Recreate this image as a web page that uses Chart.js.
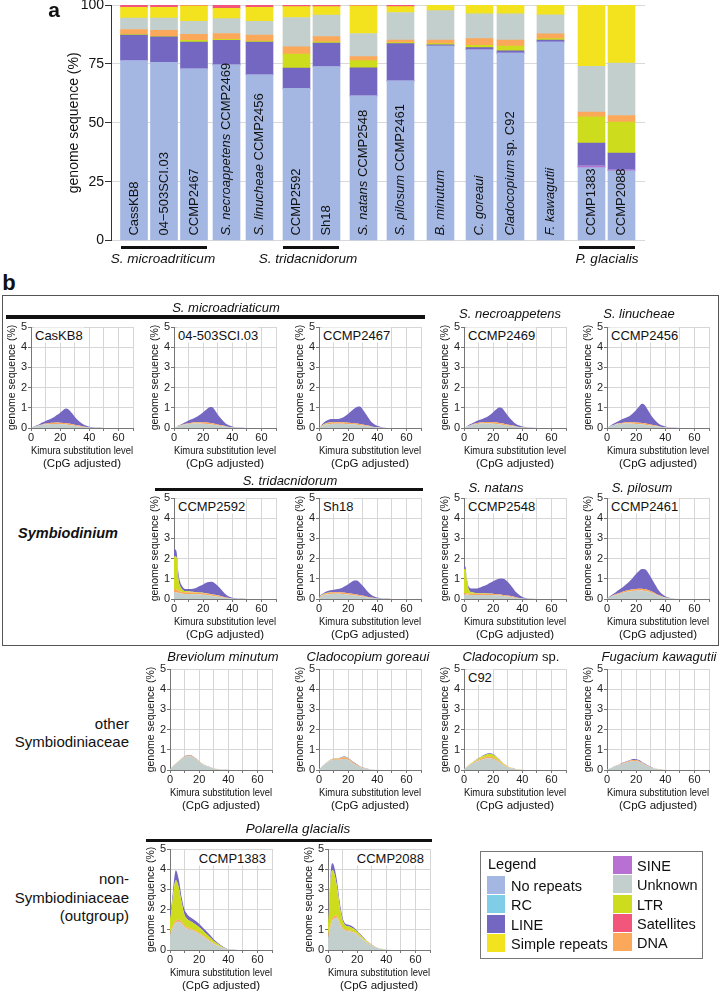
<!DOCTYPE html>
<html lang="en">
<head>
<meta charset="UTF-8">
<title>Repeat content and Kimura landscapes</title>
<script src="https://cdn.jsdelivr.net/npm/chart.js@4.4.1/dist/chart.umd.min.js"></script>
<style>
  body { margin: 0; background: #fff; font-family: "Liberation Sans", Arial, sans-serif; color: #111; }
  #fig { position: relative; width: 721px; height: 992px; overflow: hidden; }
  #fig canvas { position: absolute; }
  .t { position: absolute; white-space: nowrap; line-height: 1; }
  .rule { position: absolute; background: #111; }
</style>
</head>
<body>
<div id="fig"></div>
<script>
// ---------- panel a: genome composition (% of genome) ----------
const barLabels = ['CassKB8', '04\u2212503SCI.03', 'CCMP2467', '*S. necroappetens* CCMP2469', '*S. linucheae* CCMP2456',
  'CCMP2592', 'Sh18', '*S. natans* CCMP2548', '*S. pilosum* CCMP2461', '*B. minutum*', '*C. goreaui*',
  '*Cladocopium* sp. C92', '*F. kawagutii*', 'CCMP1383', 'CCMP2088'];
const noRepeats = [76.4, 75.7, 72.9, 74.6, 70.4, 64.6, 73.9, 61.4, 67.8, 82.6, 81.0, 79.6, 84.3, 31.0, 29.6];
const sine      = [0, 0, 0, 0, 0, 0, 0, 0, 0, 0, 0, 0, 0, 0.7, 0.4];
const rc        = [0, 0, 0, 0, 0, 0, 0, 0, 0, 0, 0, 0, 0, 0, 0];
const lineTE    = [10.8, 10.8, 11.4, 10.4, 13.9, 8.6, 9.9, 11.9, 15.8, 0.5, 0.9, 1.0, 0.8, 9.7, 7.1];
const ltr       = [0.3, 0.2, 0.7, 0.4, 0.4, 6.0, 0.6, 3.1, 0.4, 0.5, 1.0, 2.0, 0.6, 11.1, 13.2];
const dnaTE     = [2.1, 2.5, 2.5, 2.5, 2.5, 3.0, 2.2, 1.7, 1.1, 1.5, 2.8, 2.5, 2.1, 2.1, 2.8];
const unknown   = [4.8, 5.2, 5.6, 6.3, 5.9, 12.5, 9.1, 9.8, 11.7, 12.5, 10.5, 11.2, 8.0, 19.4, 22.2];
const simple    = [4.6, 4.6, 6.6, 4.4, 5.9, 4.6, 3.6, 11.8, 2.5, 2.4, 3.8, 3.7, 4.2, 26.0, 24.6];
const satellite = [1.0, 1.0, 0.3, 1.4, 1.0, 0.7, 0.7, 0.3, 0.7, 0, 0, 0, 0, 0, 0.1];
const pctTicks  = [0, 25, 50, 75, 100];

// ---------- panel b: Kimura landscapes (% of genome per bin) ----------
const kimura = [0, 1, 2, 3, 4, 6, 8, 10, 12, 14, 16, 18, 20, 22, 24, 26, 28, 30, 33, 36, 40, 44, 50];
const strainNames = ['CasKB8', '04-503SCI.03', 'CCMP2467', 'CCMP2469', 'CCMP2456', 'CCMP2592', 'Sh18', 'CCMP2548',
  'CCMP2461', '', '', 'C92', '', 'CCMP1383', 'CCMP2088'];
const unknownK = [
  [0,0.03,0.05,0.07,0.09,0.13,0.16,0.18,0.19,0.2,0.2,0.2,0.19,0.18,0.17,0.15,0.13,0.11,0.08,0.05,0.02,0.01,0],
  [0,0.03,0.06,0.09,0.11,0.15,0.18,0.2,0.21,0.22,0.22,0.22,0.21,0.2,0.19,0.17,0.15,0.12,0.09,0.06,0.03,0.01,0],
  [0,0.04,0.08,0.12,0.15,0.18,0.2,0.21,0.21,0.21,0.21,0.2,0.19,0.18,0.17,0.16,0.14,0.12,0.09,0.06,0.03,0.01,0],
  [0,0.03,0.06,0.09,0.12,0.16,0.19,0.21,0.22,0.23,0.23,0.22,0.21,0.2,0.18,0.16,0.14,0.12,0.09,0.06,0.03,0.01,0],
  [0,0.04,0.07,0.1,0.13,0.17,0.2,0.21,0.22,0.22,0.22,0.21,0.2,0.19,0.18,0.16,0.14,0.12,0.09,0.06,0.03,0.01,0],
  [0.35,0.35,0.33,0.3,0.28,0.26,0.25,0.25,0.24,0.24,0.23,0.22,0.21,0.2,0.18,0.16,0.14,0.12,0.08,0.05,0.02,0.01,0],
  [0.05,0.1,0.14,0.17,0.2,0.23,0.25,0.26,0.26,0.26,0.25,0.24,0.22,0.2,0.18,0.16,0.14,0.12,0.08,0.05,0.02,0.01,0],
  [0.2,0.22,0.22,0.21,0.2,0.2,0.2,0.2,0.2,0.2,0.2,0.2,0.19,0.18,0.17,0.16,0.14,0.12,0.09,0.05,0.02,0.01,0],
  [0.03,0.06,0.09,0.12,0.15,0.2,0.25,0.29,0.33,0.36,0.38,0.4,0.41,0.42,0.42,0.4,0.37,0.32,0.24,0.15,0.06,0.02,0],
  [0.05,0.11,0.19,0.25,0.32,0.43,0.54,0.63,0.68,0.68,0.61,0.52,0.41,0.31,0.22,0.16,0.11,0.08,0.04,0.02,0.01,0,0],
  [0.05,0.1,0.16,0.22,0.28,0.38,0.47,0.51,0.51,0.51,0.55,0.55,0.49,0.4,0.3,0.22,0.15,0.1,0.05,0.02,0.01,0,0],
  [0.05,0.1,0.15,0.2,0.25,0.33,0.4,0.46,0.51,0.55,0.58,0.58,0.55,0.48,0.38,0.28,0.2,0.13,0.07,0.03,0.01,0,0],
  [0.02,0.05,0.08,0.1,0.13,0.18,0.23,0.28,0.33,0.38,0.42,0.45,0.44,0.4,0.33,0.25,0.18,0.12,0.06,0.03,0.01,0,0],
  [0.75,0.95,1.1,1.25,1.35,1.4,1.3,1.15,1.05,1.0,0.95,0.88,0.8,0.7,0.6,0.5,0.4,0.3,0.2,0.1,0.02,0,0],
  [0.6,0.9,1.2,1.45,1.55,1.6,1.3,1.05,0.95,0.93,0.9,0.85,0.75,0.63,0.52,0.4,0.3,0.22,0.12,0.06,0.02,0,0]
];
const dnaK = [
  [0,0,0.01,0.01,0.01,0.02,0.03,0.04,0.05,0.06,0.06,0.07,0.07,0.07,0.07,0.07,0.06,0.05,0.04,0.02,0.01,0,0],
  [0,0,0.01,0.01,0.01,0.02,0.03,0.04,0.05,0.06,0.07,0.07,0.07,0.07,0.07,0.07,0.06,0.05,0.04,0.02,0.01,0,0],
  [0,0.01,0.02,0.03,0.04,0.06,0.07,0.07,0.07,0.07,0.07,0.07,0.07,0.07,0.07,0.06,0.06,0.05,0.04,0.02,0.01,0,0],
  [0,0,0.01,0.01,0.02,0.03,0.04,0.05,0.06,0.07,0.07,0.08,0.08,0.08,0.07,0.07,0.06,0.05,0.04,0.02,0.01,0,0],
  [0,0,0.01,0.01,0.01,0.02,0.03,0.04,0.05,0.06,0.06,0.07,0.07,0.07,0.07,0.07,0.06,0.05,0.04,0.02,0.01,0,0],
  [0.15,0.15,0.14,0.12,0.1,0.09,0.08,0.08,0.08,0.08,0.08,0.08,0.08,0.07,0.07,0.07,0.06,0.05,0.04,0.02,0.01,0,0],
  [0.01,0.02,0.03,0.04,0.05,0.06,0.07,0.07,0.07,0.07,0.07,0.07,0.07,0.07,0.06,0.06,0.05,0.05,0.03,0.02,0.01,0,0],
  [0.08,0.08,0.07,0.06,0.06,0.06,0.06,0.06,0.06,0.06,0.06,0.06,0.06,0.06,0.06,0.05,0.05,0.05,0.04,0.02,0.01,0,0],
  [0,0.01,0.01,0.02,0.02,0.03,0.04,0.05,0.06,0.07,0.08,0.08,0.09,0.09,0.09,0.09,0.08,0.07,0.05,0.03,0.01,0,0],
  [0,0.01,0.01,0.02,0.02,0.03,0.03,0.04,0.04,0.04,0.04,0.03,0.03,0.02,0.02,0.01,0.01,0.01,0.01,0.01,0,0,0],
  [0,0,0.01,0.01,0.01,0.02,0.03,0.04,0.05,0.06,0.07,0.07,0.07,0.06,0.05,0.04,0.03,0.02,0.01,0.01,0,0,0],
  [0,0.01,0.01,0.02,0.02,0.03,0.04,0.05,0.06,0.07,0.08,0.08,0.08,0.07,0.06,0.05,0.04,0.03,0.02,0.01,0,0,0],
  [0,0,0.01,0.01,0.01,0.02,0.02,0.03,0.04,0.04,0.05,0.05,0.05,0.05,0.04,0.04,0.03,0.02,0.01,0.01,0,0,0],
  [0.1,0.1,0.1,0.1,0.1,0.1,0.1,0.08,0.07,0.07,0.06,0.06,0.05,0.05,0.04,0.04,0.03,0.03,0.02,0.01,0,0,0],
  [0.15,0.15,0.15,0.15,0.12,0.1,0.08,0.07,0.06,0.05,0.05,0.04,0.04,0.03,0.03,0.02,0.02,0.01,0.01,0,0,0,0]
];
const ltrK = [
  null,
  null,
  [0,0.01,0.02,0.02,0.02,0.02,0.01,0.01,0.01,0.01,0,0,0,0,0,0,0,0,0,0,0,0,0],
  null,
  null,
  [1.6,1.6,1.5,0.6,0.3,0.1,0.06,0.05,0.04,0.03,0.03,0.02,0.02,0.02,0.01,0.01,0.01,0.01,0,0,0,0,0],
  [0.02,0.03,0.03,0.03,0.02,0.02,0.01,0.01,0,0,0,0,0,0,0,0,0,0,0,0,0,0,0],
  [1.2,1.15,0.6,0.25,0.12,0.06,0.04,0.03,0.02,0.02,0.01,0.01,0.01,0,0,0,0,0,0,0,0,0,0],
  null,
  null,
  [0,0,0,0,0,0.01,0.01,0.01,0.01,0.01,0.01,0.01,0.01,0.01,0,0,0,0,0,0,0,0,0],
  [0,0,0.01,0.01,0.02,0.03,0.04,0.06,0.08,0.1,0.12,0.13,0.12,0.1,0.07,0.05,0.03,0.02,0.01,0,0,0,0],
  null,
  [0.7,0.9,1.4,1.85,2.0,1.6,0.95,0.5,0.4,0.35,0.33,0.3,0.28,0.25,0.22,0.19,0.16,0.12,0.08,0.04,0.01,0,0],
  [0.55,1.25,2.3,2.35,2.2,1.5,0.8,0.35,0.2,0.18,0.17,0.15,0.12,0.1,0.07,0.06,0.04,0.03,0.02,0.01,0,0,0]
];
const lineK = [
  [0,0.01,0.01,0.02,0.03,0.05,0.09,0.13,0.17,0.21,0.29,0.38,0.5,0.63,0.72,0.68,0.55,0.4,0.21,0.1,0.03,0.01,0],
  [0,0.01,0.01,0.02,0.03,0.05,0.09,0.13,0.17,0.21,0.28,0.38,0.5,0.63,0.76,0.8,0.68,0.5,0.28,0.12,0.04,0.01,0],
  [0,0.02,0.05,0.08,0.1,0.13,0.16,0.16,0.15,0.17,0.23,0.32,0.44,0.58,0.71,0.82,0.86,0.74,0.48,0.22,0.07,0.02,0],
  [0,0.01,0.02,0.03,0.04,0.06,0.09,0.12,0.15,0.19,0.26,0.36,0.49,0.63,0.76,0.76,0.62,0.45,0.24,0.1,0.03,0.01,0],
  [0,0.01,0.02,0.04,0.06,0.08,0.12,0.17,0.21,0.26,0.34,0.46,0.62,0.8,0.95,0.9,0.7,0.48,0.25,0.11,0.04,0.01,0],
  [0.35,0.35,0.25,0.3,0.22,0.15,0.11,0.12,0.14,0.17,0.24,0.33,0.41,0.51,0.58,0.61,0.57,0.47,0.3,0.13,0.03,0.01,0],
  [0.02,0.03,0.04,0.05,0.06,0.08,0.1,0.12,0.15,0.18,0.24,0.33,0.44,0.56,0.67,0.7,0.62,0.48,0.29,0.13,0.04,0.01,0],
  [0.17,0.15,0.11,0.13,0.17,0.2,0.22,0.26,0.32,0.37,0.45,0.53,0.62,0.71,0.77,0.81,0.79,0.68,0.47,0.25,0.07,0.02,0],
  [0.01,0.02,0.03,0.04,0.06,0.1,0.15,0.2,0.27,0.35,0.46,0.6,0.75,0.88,0.97,0.98,0.88,0.7,0.43,0.2,0.06,0.02,0],
  [0,0,0,0,0,0,0.01,0.01,0.02,0.02,0.02,0.02,0.01,0.01,0.01,0.01,0.01,0,0,0,0,0,0],
  [0,0,0,0.01,0.01,0.01,0.01,0.01,0.01,0.02,0.03,0.04,0.03,0.03,0.03,0.02,0.02,0.01,0.01,0,0,0,0],
  [0,0,0,0,0.01,0.01,0.01,0.02,0.02,0.03,0.04,0.04,0.04,0.03,0.03,0.02,0.02,0.01,0.01,0,0,0,0],
  [0,0,0,0,0.01,0.01,0.01,0.02,0.02,0.03,0.03,0.04,0.04,0.04,0.03,0.03,0.02,0.02,0.01,0.01,0,0,0],
  [0.25,0.25,0.3,0.4,0.5,0.4,0.25,0.27,0.23,0.2,0.18,0.18,0.17,0.15,0.14,0.12,0.11,0.08,0.05,0.03,0.01,0.01,0],
  [0.2,0.3,0.35,0.35,0.33,0.3,0.22,0.13,0.09,0.09,0.08,0.06,0.04,0.04,0.03,0.02,0.02,0.01,0,0,0,0,0]
];

// ---------- styles & layout ----------
const C = {
  noRep: '#A4B7E3', rc: '#80CDE8', line: '#7467C2', simple: '#F3E31E', sine: '#B870D2',
  unknown: '#C3CFCC', ltr: '#CEDC1E', sat: '#F2577B', dna: '#FBA85B'
};
const FONT = '"Liberation Sans", Arial, sans-serif';
Chart.defaults.font.family = FONT;
Chart.defaults.color = '#111';

// extra spacing (px) between neighbouring bars; base step is 30
const barGaps = [0, 0, 2.5, 3, 7, 0, 7, 7, 10, 9, 1, 10, 11, 0];
const barPos = [0];
barGaps.forEach(g => barPos.push(barPos[barPos.length - 1] + 30 + g));

// [y-axis x, y of the "5" gridline] for each small chart
const miniSlots = [[31, 327], [174, 327], [319, 327], [464, 327], [607, 327],
  [174, 498], [319, 498], [464, 498], [607, 498],
  [170, 669], [319, 669], [464, 669], [607, 669],
  [170, 849], [328, 849]];

const fig = document.getElementById('fig');

function put(html, x, y, size, opt = {}) {
  const d = document.createElement('div');
  d.className = 't';
  d.innerHTML = html;
  const sx = opt.align === 'left' ? '0' : opt.align === 'right' ? '-100%' : '-50%';
  d.style.cssText += `left:${x}px;top:${y}px;font-size:${size}px;transform:translate(${sx},-50%);` + (opt.css || '');
  fig.appendChild(d);
  return d;
}
function rule(x, y, w, h, css) {
  const d = document.createElement('div');
  d.className = 'rule';
  d.style.cssText += `left:${x}px;top:${y}px;width:${w}px;height:${h}px;` + (css || '');
  fig.appendChild(d);
}
function addCanvas(x, y, w, h) {
  const cv = document.createElement('canvas');
  cv.width = w; cv.height = h;
  cv.style.left = x + 'px'; cv.style.top = y + 'px';
  fig.appendChild(cv);
  return cv;
}

// text with *italic* pieces, drawn left to right from the origin
function drawRich(ctx, str, size) {
  let x = 0;
  str.split('*').forEach((p, i) => {
    if (!p) return;
    ctx.font = (i % 2 ? 'italic ' : '') + size + 'px ' + FONT;
    ctx.fillText(p, x, 0);
    x += ctx.measureText(p).width;
  });
}

const barLabelPlugin = {
  id: 'barLabels',
  afterDatasetsDraw(chart) {
    const ctx = chart.ctx, xs = chart.scales.x, ys = chart.scales.y;
    ctx.save();
    ctx.fillStyle = '#111';
    ctx.textBaseline = 'middle';
    barLabels.forEach((lab, i) => {
      ctx.save();
      ctx.translate(xs.getPixelForValue(barPos[i]), ys.getPixelForValue(0) - 5);
      ctx.rotate(-Math.PI / 2);
      drawRich(ctx, lab, 13);
      ctx.restore();
    });
    ctx.restore();
  }
};

// ---------- panel a ----------
const barSeries = [
  ['No repeats', noRepeats, C.noRep], ['SINE', sine, C.sine], ['RC', rc, C.rc], ['LINE', lineTE, C.line],
  ['LTR', ltr, C.ltr], ['DNA', dnaTE, C.dna], ['Unknown', unknown, C.unknown],
  ['Simple repeats', simple, C.simple], ['Satellites', satellite, C.sat]
];
new Chart(addCanvas(0, -6, 660, 256), {
  type: 'bar',
  data: {
    datasets: barSeries.map(([label, vals, col]) => ({
      label,
      data: vals.map((v, i) => ({ x: barPos[i], y: v })),
      backgroundColor: col,
      borderWidth: 0,
      barThickness: 27
    }))
  },
  options: {
    responsive: false, animation: false, events: [],
    layout: { padding: { top: 11, right: 15, bottom: 5, left: 0 } },
    plugins: { legend: { display: false }, tooltip: { enabled: false } },
    scales: {
      x: { type: 'linear', stacked: true, display: false, offset: false, min: -23, max: 511 },
      y: {
        stacked: true, min: 0, max: 100,
        afterFit: s => { s.width = 111; },
        afterBuildTicks: s => { s.ticks = pctTicks.map(v => ({ value: v })); },
        ticks: { padding: 1, font: { size: 14 }, color: '#111' },
        grid: { color: '#d9d9d9', tickColor: '#333', tickLength: 6 },
        border: { color: '#333' },
        title: { display: true, text: 'genome sequence (%)', font: { size: 14 }, padding: { top: 66, bottom: 0 }, color: '#111' }
      }
    }
  },
  plugins: [barLabelPlugin]
});

put('a', 54, 9, 21, { css: 'font-weight:bold;' });
rule(121, 246, 86, 3); rule(283, 246, 56, 3); rule(579, 246, 56, 3);
put('<i>S. microadriticum</i>', 163, 259, 13.5);
put('<i>S. tridacnidorum</i>', 308, 259, 13.5);
put('<i>P. glacialis</i>', 607, 259, 13.5);

// ---------- panel b ----------
put('b', 9, 283, 22, { css: 'font-weight:bold;' });
const box = document.createElement('div');
box.style.cssText = 'position:absolute;left:2px;top:295px;width:715px;height:349px;border:1.5px solid #555;';
fig.appendChild(box);

function kimuraChart(i) {
  const [ax, top5] = miniSlots[i];
  const cv = addCanvas(ax - 34, top5 - 8, 150, 151);
  const series = [['Unknown', unknownK[i], C.unknown], ['DNA', dnaK[i], C.dna], ['LTR', ltrK[i], C.ltr], ['LINE', lineK[i], C.line]]
    .filter(s => s[1]);
  const gridCol = '#d6d6d6';
  new Chart(cv, {
    type: 'line',
    data: {
      datasets: series.map((s, j) => ({
        label: s[0],
        data: s[1].map((v, k) => ({ x: kimura[k], y: v })),
        backgroundColor: s[2],
        borderWidth: 0,
        pointRadius: 0,
        fill: j === 0 ? 'origin' : '-1',
        cubicInterpolationMode: 'monotone'
      }))
    },
    options: {
      responsive: false, animation: false, events: [],
      layout: { padding: { top: 8, right: 14, bottom: 0, left: 0 } },
      plugins: { legend: { display: false }, tooltip: { enabled: false } },
      scales: {
        x: {
          type: 'linear', min: 0, max: 70,
          afterFit: s => { s.height = 42; },
          ticks: { stepSize: 10, autoSkip: false, maxRotation: 0, padding: 0, font: { size: 11 }, color: '#222',
            callback: v => (v % 20 === 0 && v < 70) ? v : '' },
          grid: { color: gridCol, tickColor: '#777', tickLength: 3 },
          border: { color: '#777' },
          title: { display: true, text: ['Kimura substitution level', '(CpG adjusted)'], color: '#111',
            font: { size: 11.5, lineHeight: 1.13 }, padding: { top: 0, bottom: 0 } }
        },
        y: {
          stacked: true, min: 0, max: 5,
          afterFit: s => { s.width = 34; },
          ticks: { stepSize: 1, padding: 1, font: { size: 11 }, color: '#222' },
          grid: { color: gridCol, tickColor: '#777', tickLength: 3 },
          border: { color: '#777' },
          title: { display: true, text: 'genome sequence (%)', color: '#111', font: { size: 10.5 }, padding: { top: 8.7, bottom: 0 } }
        }
      }
    }
  });
  const name = strainNames[i];
  if (!name) return;
  const lbl = 'background:#fff;padding:1px 1px;';
  if (i >= 13) put(name, ax + 97, top5 + 9, 13, { align: 'right', css: lbl });
  else put(name, ax + 3, top5 + 8, 13, { align: 'left', css: lbl });
}
miniSlots.forEach((_, i) => kimuraChart(i));

// group titles
put('<i>S. microadriaticum</i>', 226, 307, 13);
rule(6, 315, 419, 3.5);
put('<i>S. necroappetens</i>', 510, 313, 13);
put('<i>S. linucheae</i>', 639, 313, 13);
put('<i>S. tridacnidorum</i>', 290, 480, 13);
rule(155, 487.5, 268, 3.5);
put('<i>S. natans</i>', 496, 487, 13);
put('<i>S. pilosum</i>', 642, 487, 13);
put('<b><i>Symbiodinium</i></b>', 68, 533, 14.5);

put('<i>Breviolum minutum</i>', 223, 656, 13);
put('<i>Cladocopium goreaui</i>', 368, 656, 13);
put('<i>Cladocopium</i> sp.', 511, 656, 13);
put('<i>Fugacium kawagutii</i>', 659, 656, 13);
put('other', 129, 723, 15, { align: 'right' });
put('Symbiodiniaceae', 129, 741, 15, { align: 'right' });

put('<i>Polarella glacialis</i>', 298, 829, 13.5);
rule(146, 838.5, 286, 3.5);
put('non-', 129, 878, 15, { align: 'right' });
put('Symbiodiniaceae', 129, 896.5, 15, { align: 'right' });
put('(outgroup)', 129, 915, 15, { align: 'right' });

// legend
const legendLeft = [['No repeats', C.noRep], ['RC', C.rc], ['LINE', C.line], ['Simple repeats', C.simple]];
const legendRight = [['SINE', C.sine], ['Unknown', C.unknown], ['LTR', C.ltr], ['Satellites', C.sat], ['DNA', C.dna]];
const lg = document.createElement('div');
lg.style.cssText = 'position:absolute;left:480px;top:851px;width:221px;height:106px;border:1px solid #777;';
fig.appendChild(lg);
put('Legend', 488, 864, 14.5, { align: 'left' });
legendLeft.forEach(([name, col], k) => {
  const y = 876 + 19.3 * k;
  rule(487, y, 18, 18, 'background:' + col + ';');
  put(name, 511, y + 10, 14.5, { align: 'left' });
});
legendRight.forEach(([name, col], k) => {
  const y = 856 + 19.3 * k;
  rule(613, y, 19, 18, 'background:' + col + ';');
  put(name, 637, y + 10, 14.5, { align: 'left' });
});
</script>
</body>
</html>
